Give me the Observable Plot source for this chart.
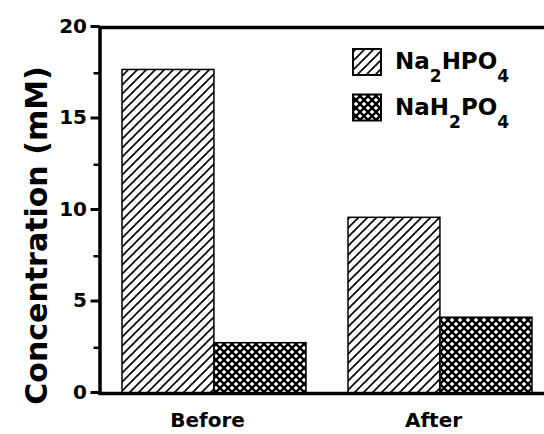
<!DOCTYPE html>
<html><head><meta charset="utf-8">
<script src="https://cdn.jsdelivr.net/npm/d3@7"></script>
<script src="https://cdn.jsdelivr.net/npm/@observablehq/plot@0.6"></script>
<style>
html,body{margin:0;padding:0;background:#fff;overflow:hidden;}
#chart svg{max-width:none !important;display:block;}
</style></head><body><div id="chart"></div>
<script>
const groups = ["Before", "After"];
const series = ["Na2HPO4", "NaH2PO4"];
const na2hpo4 = [17.68, 9.6];
const nah2po4 = [2.75, 4.14];
const yTicks = [0, 5, 10, 15, 20];
const yMinorTicks = [2.5, 7.5, 12.5, 17.5];
const yLabel = "Concentration (mM)";

const rows = [];
groups.forEach((g, i) => {
  rows.push({group: g, series: series[0], value: na2hpo4[i]});
  rows.push({group: g, series: series[1], value: nah2po4[i]});
});

const W = 555, H = 434, ML = 99.5, MT = 27, MB = 41;
const padIn = 0.186, padOut = 0.0996;
const step = (W - ML) / (groups.length - padIn + 2 * padOut);
const half = step * (1 - padIn) / 2;
const font = "'DejaVu Sans', sans-serif";
const patterns = ["hatch", "cross"];

const plot = Plot.plot({
  width: W, height: H, marginLeft: ML, marginRight: 0, marginTop: MT, marginBottom: MB,
  style: {fontFamily: font, fontWeight: "bold", background: "#fff", color: "#000"},
  x: {domain: groups, paddingInner: padIn, paddingOuter: padOut, label: null},
  y: {domain: [0, 20], label: null},
  marks: [
    Plot.barY(rows.filter(d => d.series === series[0]), {x: "group", y: "value", fill: "url(#hatch)", stroke: "#000", strokeWidth: 1.5, insetRight: half}),
    Plot.barY(rows.filter(d => d.series === series[1]), {x: "group", y: "value", fill: "url(#cross)", stroke: "#000", strokeWidth: 1.5, insetLeft: half}),
    Plot.frame({stroke: "#000", strokeWidth: 3.5}),
    Plot.axisY({ticks: yTicks, tickSize: 9, tickPadding: 4, strokeWidth: 3, fontSize: 20, label: null, dy: -1}),
    Plot.axisY({ticks: yMinorTicks, tickSize: 6, strokeWidth: 2.5, text: null, label: null}),
    Plot.axisX({tickSize: 0, tickPadding: 19, fontSize: 20, label: null, dx: -7}),
    Plot.text([yLabel], {text: d => d, frameAnchor: "left", textAnchor: "middle", rotate: -90, dx: -63, dy: 25, fontSize: 30, fontWeight: "bold"})
  ]
});

const svg = d3.select(plot);
const defs = svg.insert("defs", ":first-child");
const h = defs.append("pattern").attr("id", "hatch").attr("patternUnits", "userSpaceOnUse").attr("width", 9).attr("height", 9);
h.append("rect").attr("width", 9).attr("height", 9).attr("fill", "#fff");
h.append("path").attr("d", "M-2,2 L2,-2 M-1,10 L10,-1 M7,11 L11,7").attr("stroke", "#000").attr("stroke-width", 1.6).attr("fill", "none");
const c = defs.append("pattern").attr("id", "cross").attr("patternUnits", "userSpaceOnUse").attr("width", 8).attr("height", 8);
c.append("rect").attr("width", 8).attr("height", 8).attr("fill", "#fff");
c.append("path").attr("d", "M-2,-2 L10,10 M10,-2 L-2,10").attr("stroke", "#000").attr("stroke-width", 2.3).attr("fill", "none");

// legend
const lg = svg.append("g").attr("font-family", font).attr("font-weight", "bold").attr("fill", "#000").attr("text-anchor", "start");
series.forEach((s, i) => {
  const y0 = 49 + i * 45.5;
  lg.append("rect").attr("x", 353).attr("y", y0).attr("width", 28).attr("height", 26)
    .attr("fill", `url(#${patterns[i]})`).attr("stroke", "#000").attr("stroke-width", 2);
  const t = lg.append("text").attr("x", 395).attr("y", y0 + 20.3).attr("font-size", 23).attr("text-anchor", "start");
  const parts = s.match(/\d+|\D+/g);
  let shifted = false;
  parts.forEach(p => {
    const isSub = /\d/.test(p);
    const ts = t.append("tspan").text(p);
    if (isSub) { ts.attr("font-size", 17).attr("dy", 13); shifted = true; }
    else if (shifted) { ts.attr("dy", -13); shifted = false; }
  });
});

document.getElementById("chart").appendChild(plot);
</script></body></html>
